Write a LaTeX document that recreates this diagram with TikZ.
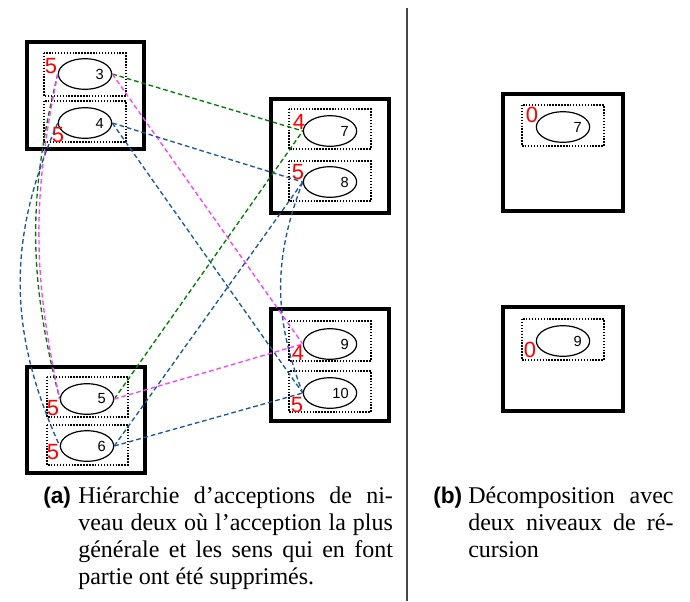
\documentclass[tikz,border=0pt]{standalone}
\usepackage{fontspec}
\setmainfont{Liberation Serif}
\newfontfamily\numfont{Liberation Sans}
\usetikzlibrary{shapes.geometric}

\definecolor{lnkgreen}{RGB}{0,125,0}
\definecolor{lnkpink}{RGB}{255,64,255}
\definecolor{lnkblue}{RGB}{30,85,155}
\definecolor{lblred}{RGB}{255,0,0}
\definecolor{rulegray}{RGB}{70,70,70}

\begin{document}
\begin{tikzpicture}[x=0.75pt, y=-0.75pt,
  outerbox/.style={draw=black, line width=2.4pt},
  innerbox/.style={draw=black, line width=1.1pt, dash pattern=on 1.1pt off 1.1pt},
  sense/.style={ellipse, draw, line width=0.9pt, inner sep=0pt,
    minimum width=40pt, minimum height=23pt,
    font=\numfont\fontsize{11}{11}\selectfont},
  level/.style={text=lblred, inner sep=0pt, font=\numfont\fontsize{16.5}{16.5}\selectfont},
  link/.style={line width=1pt, dash pattern=on 3.5pt off 2.2pt},
  captext/.style={anchor=base west, inner sep=0pt, font=\fontsize{18}{22}\selectfont},
  caplabel/.style={anchor=base west, inner sep=0pt, font=\numfont\bfseries\fontsize{17}{22}\selectfont}
]
\useasboundingbox (0,0) rectangle (690,601);

% separator between the two sub-figures
\draw[rulegray, line width=1.5pt] (407,8) -- (407,601);

% ---------- (a) four groups of two senses ----------
\draw[outerbox] (27,42) rectangle (144,149);
\draw[innerbox] (44,53) rectangle (126,96);
\draw[innerbox] (44,101) rectangle (126,142);

\draw[outerbox] (271,99) rectangle (389,213);
\draw[innerbox] (289,109) rectangle (371,149);
\draw[innerbox] (289,161) rectangle (371,201);

\draw[outerbox] (27,367) rectangle (145,473);
\draw[innerbox] (47,377) rectangle (128,417);
\draw[innerbox] (47,425) rectangle (128,465);

\draw[outerbox] (271,309) rectangle (389,421);
\draw[innerbox] (289,321) rectangle (371,361);
\draw[innerbox] (289,371) rectangle (371,412);

\node[sense] (e3) at (85,74) {\makebox[28pt][r]{3}};
\node[sense] (e4) at (85,123) {\makebox[28pt][r]{4}};
\node[sense] (e5) at (87,399) {\makebox[28pt][r]{5}};
\node[sense] (e6) at (87,446) {\makebox[28pt][r]{6}};
\node[sense] (e7) at (330,131) {\makebox[28pt][r]{7}};
\node[sense] (e8) at (330,182) {\makebox[28pt][r]{8}};
\node[sense] (e9) at (330,344) {\makebox[28pt][r]{9}};
\node[sense] (e10) at (330,393) {\makebox[28pt][r]{10}};

\node[level] (r3) at (51,66) {5};
\node[level] (r4) at (58,135) {5};
\node[level] (r5) at (53,408) {5};
\node[level] (r6) at (53,452) {5};
\node[level] (r7) at (299,122) {4};
\node[level] (r8) at (298,172) {5};
\node[level] (r9) at (298,353) {4};
\node[level] (r10) at (297,405) {5};

% links between senses
\draw[link, lnkgreen] (e3.east) -- (e7.west);
\draw[link, lnkpink] (e3.east) -- (e9.west);
\draw[link, lnkblue] (e4.east) -- (e8.west);
\draw[link, lnkblue] (e4.east) -- (e10.west);
\draw[link, lnkgreen] (e5.east) -- (e7.west);
\draw[link, lnkpink] (e5.east) -- (e9.west);
\draw[link, lnkblue] (e6.east) -- (e8.west);
\draw[link, lnkblue] (e6.east) -- (e10.west);

\draw[link, lnkgreen] (e3.west) to[bend right=14] (e5.west);
\draw[link, lnkpink] (e3.west) to[bend right=12] (e5.west);
\draw[link, lnkblue] (e4.west) to[bend right=24] (e6.west);
\draw[link, lnkblue] (e8.west) to[bend right=21] (e10.west);

% ---------- (b) decomposition ----------
\draw[outerbox] (503,94) rectangle (623,211);
\draw[innerbox] (522,105) rectangle (604,146);
\node[sense] (f7) at (563,127) {\makebox[28pt][r]{7}};
\node[level] (g7) at (532,115) {0};

\draw[outerbox] (503,307) rectangle (623,411);
\draw[innerbox] (522,319) rectangle (604,360);
\node[sense] (f9) at (563,341) {\makebox[28pt][r]{9}};
\node[level] (g9) at (530,350) {0};

% ---------- captions ----------
\node[caplabel] (capa) at (43,503) {(a)};
\node[captext] (ca1) at (78,503) {\makebox[236pt][s]{Hiérarchie d’acceptions de ni-}};
\node[captext] (ca2) at (78,530) {\makebox[236pt][s]{veau deux où l’acception la plus}};
\node[captext] (ca3) at (78,557) {\makebox[236pt][s]{générale et les sens qui en font}};
\node[captext] (ca4) at (78,584) {partie ont été supprimés.};

\node[caplabel] (capb) at (433,503) {(b)};
\node[captext] (cb1) at (468,503) {\makebox[154pt][s]{Décomposition avec}};
\node[captext] (cb2) at (468,530) {\makebox[154pt][s]{deux niveaux de ré-}};
\node[captext] (cb3) at (468,557) {cursion};
\end{tikzpicture}
\end{document}
